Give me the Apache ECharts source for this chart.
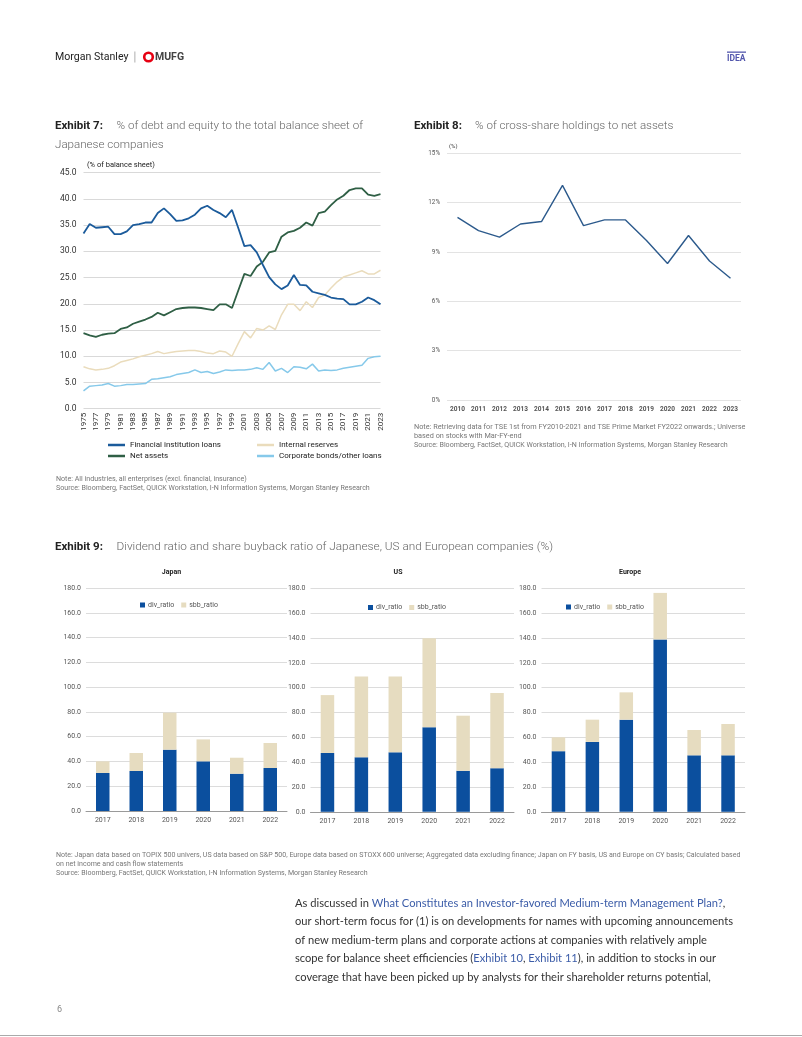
<!DOCTYPE html>
<html><head><meta charset="utf-8">
<script src="https://cdn.jsdelivr.net/npm/echarts@6/dist/echarts.min.js"></script>
<style>html,body{margin:0;padding:0;background:#fff}#c{width:802px;height:1037px}</style>
</head><body><div id="c"></div>
<script>
// ---------- Exhibit 7 data ----------
const years7 = ['1975','1976','1977','1978','1979','1980','1981','1982','1983','1984','1985','1986','1987','1988','1989','1990','1991','1992','1993','1994','1995','1996','1997','1998','1999','2000','2001','2002','2003','2004','2005','2006','2007','2008','2009','2010','2011','2012','2013','2014','2015','2016','2017','2018','2019','2020','2021','2022','2023'];
const finLoans = [33.4,35.2,34.5,34.6,34.7,33.3,33.3,33.8,35.0,35.2,35.5,35.5,37.3,38.2,37.1,35.8,35.9,36.3,37.0,38.2,38.7,37.9,37.3,36.5,37.9,34.5,31.0,31.2,29.8,27.4,25.1,23.7,22.8,23.5,25.5,23.6,23.5,22.3,22.0,21.7,21.2,21.0,20.9,19.9,19.9,20.4,21.2,20.7,19.9];
const netAssets = [14.4,14.0,13.7,14.1,14.3,14.4,15.2,15.5,16.2,16.6,17.0,17.5,18.3,17.8,18.4,19.0,19.2,19.3,19.3,19.2,19.0,18.8,19.9,19.9,19.2,22.5,25.7,25.3,27.1,28.0,29.8,30.1,32.8,33.6,33.9,34.5,35.5,34.9,37.3,37.6,38.8,39.9,40.6,41.7,42.0,42.0,40.8,40.6,40.9];
const internalReserves = [8.0,7.6,7.4,7.5,7.7,8.2,8.9,9.2,9.5,9.9,10.2,10.5,10.9,10.5,10.7,10.9,11.0,11.1,11.1,10.9,10.6,10.5,11.0,10.8,10.0,12.4,14.7,13.5,15.3,15.0,15.8,15.1,17.9,19.9,19.9,18.7,20.4,19.3,21.2,21.7,23.0,24.2,25.1,25.5,25.9,26.3,25.7,25.7,26.4];
const corpBonds = [3.4,4.3,4.4,4.5,4.8,4.3,4.4,4.6,4.6,4.7,4.8,5.6,5.7,5.9,6.1,6.5,6.7,6.9,7.4,6.9,7.1,6.7,7.0,7.4,7.3,7.4,7.4,7.5,7.8,7.5,8.8,7.2,7.7,6.9,8.0,7.9,7.6,8.5,7.2,7.4,7.3,7.4,7.7,7.9,8.1,8.3,9.6,9.9,10.0];
// ---------- Exhibit 8 data ----------
const years8 = ['2010','2011','2012','2013','2014','2015','2016','2017','2018','2019','2020','2021','2022','2023'];
const crossShare = [11.1,10.3,9.9,10.7,10.85,13.05,10.6,10.95,10.95,9.7,8.3,10.0,8.45,7.4];
// ---------- Exhibit 9 data ----------
const years9 = ['2017','2018','2019','2020','2021','2022'];
const japanDiv = [30.7,32.3,49.5,40.1,30.1,34.7];
const japanSbb = [9.4,14.5,29.9,17.7,12.9,20.2];
const usDiv = [47.4,43.9,47.9,68.0,33.0,35.1];
const usSbb = [46.6,65.1,61.1,71.8,44.4,60.5];
const euDiv = [48.8,56.3,74.2,138.8,45.5,45.5];
const euSbb = [11.2,17.9,22.0,37.5,20.4,25.2];

const FF = 'Roboto, "Noto Sans", sans-serif';
const PF = 'Lato, "Open Sans", sans-serif';

// pick a condensed face when one is installed, and size it to the reference width
const mctx = document.createElement('canvas').getContext('2d');
function hasFont(name) {
  const s = 'abcdefghijklmnopqrstuvwxyz0123456789';
  mctx.font = '20px monospace'; const a = mctx.measureText(s).width;
  mctx.font = '20px "' + name + '", monospace'; const b = mctx.measureText(s).width;
  return a !== b;
}
const HAS_NARROW = hasFont('Liberation Sans Narrow');
const NARROW = HAS_NARROW ? '"Liberation Sans Narrow", ' + FF : FF;
function fitSize(text, family, weight, target) {
  mctx.font = (weight || 'normal') + ' 20px ' + family;
  return 20 * target / mctx.measureText(text).width;
}
const legSize = HAS_NARROW ? Math.min(9.5, fitSize('Financial institution loans', NARROW, 'normal', 82)) : 8;

function T(x, y, text, size, color, weight, family, extra) {
  return {type:'text', x:x, y:y, silent:true, z:10,
    style:Object.assign({text:text, fill:color||'#333',
      font:(weight||'normal')+' '+size+'px '+(family||FF), align:'left', verticalAlign:'middle'}, extra||{})};
}
const linkC = '#3b5ca8';
function P(y, text) {
  const f = '11.15px ' + PF;
  return {type:'text', x:295, y:y, silent:true,
    style:{text:text, fill:'#333', font:f, align:'left', verticalAlign:'middle',
      rich:{l:{fill:linkC, color:linkC, font:f}, n:{fill:'#333', color:'#333', font:f}}}};
}

const graphic = [
  T(55,57,'Morgan Stanley',10.6,'#222','normal'),
  {type:'rect', shape:{x:134.5,y:51.5,width:0.8,height:11}, style:{fill:'#999'}, silent:true},
  {type:'circle', shape:{cx:148.5,cy:57,r:4.3}, style:{fill:'none', stroke:'#e60012', lineWidth:2.6}, silent:true},
  T(155,57,'MUFG',10.5,'#444','bold'),
  {type:'rect', shape:{x:727,y:51.5,width:19,height:1.3}, style:{fill:'#5458ad'}, silent:true},
  T(727,58.5,'IDEA',8.5,'#5458ad','bold'),
  // Exhibit 7 titles
  T(55,126,'Exhibit 7:',11.5,'#222','bold'),
  T(116.5,126,'% of debt and equity to the total balance sheet of',11.6,'#666','300'),
  T(55,145,'Japanese companies',11.6,'#666','300'),
  T(87,165,'(% of balance sheet)',7.5,'#222','normal'),
  T(56,479,'Note: All industries, all enterprises (excl. financial, insurance)',7.1,'#777'),
  T(56,488.3,'Source: Bloomberg, FactSet, QUICK Workstation, I-N Information Systems, Morgan Stanley Research',7.1,'#777'),
  // Exhibit 8 titles
  T(414,126,'Exhibit 8:',11.5,'#222','bold'),
  T(475,126,'% of cross-share holdings to net assets',11.6,'#666','300'),
  T(449,146,'(%)',6,'#444'),
  T(414,427,'Note: Retrieving data for TSE 1st from FY2010-2021 and TSE Prime Market FY2022 onwards.; Universe',7.3,'#777'),
  T(414,436,'based on stocks with Mar-FY-end',7.3,'#777'),
  T(414,445,'Source: Bloomberg, FactSet, QUICK Workstation, I-N Information Systems, Morgan Stanley Research',7.1,'#777'),
  // Exhibit 9
  T(55,547,'Exhibit 9:',11.5,'#222','bold'),
  T(116.5,547,'Dividend ratio and share buyback ratio of Japanese, US and European companies (%)',11.8,'#666','300'),
  T(171.5,572,'Japan',7,'#222','bold',FF,{align:'center'}),
  T(398,572.5,'US',7,'#222','bold',FF,{align:'center'}),
  T(630,572.5,'Europe',7,'#222','bold',FF,{align:'center'}),
  T(56,855.5,'Note: Japan data based on TOPIX 500 univers, US data based on S&P 500, Europe data based on STOXX 600 universe; Aggregated data excluding finance; Japan on FY basis, US and Europe on CY basis; Calculated based',7.05,'#777'),
  T(56,864.5,'on net income and cash flow statements',7.05,'#777'),
  T(56,873.5,'Source: Bloomberg, FactSet, QUICK Workstation, I-N Information Systems, Morgan Stanley Research',7.05,'#777'),
  // paragraph
  P(903,'As discussed in {l|What Constitutes an Investor-favored Medium-term Management Plan?}{n|,}'),
  P(921.5,'our short-term focus for (1) is on developments for names with upcoming announcements'),
  P(940,'of new medium-term plans and corporate actions at companies with relatively ample'),
  P(958.5,'scope for balance sheet efficiencies ({l|Exhibit 10}{n|, }{l|Exhibit 11}{n|), in addition to stocks in our}'),
  P(977,'coverage that have been picked up by analysts for their shareholder returns potential,'),
  T(57,1010,'6',9,'#888'),
  {type:'rect', shape:{x:0,y:1035,width:802,height:1}, style:{fill:'#aaa'}, silent:true}
];

const f1 = v => v.toFixed(1);

function barAxisX(gi) {
  return {type:'category', gridIndex:gi, data:years9, axisTick:{show:false},
    axisLine:{show:true, lineStyle:{color:'#9a9a9a', width:1}},
    axisLabel:{fontSize:7, color:'#555', margin:6, fontFamily:FF}};
}
function barAxisY(gi) {
  return {type:'value', gridIndex:gi, min:0, max:180, interval:20,
    splitLine:{show:true, lineStyle:{color:'#dcdcdc'}}, axisLine:{show:false}, axisTick:{show:false},
    axisLabel:{fontSize:7, color:'#555', margin:5, formatter:f1, fontFamily:FF}};
}
const DIV_C = '#0b4f9e', SBB_C = '#e6dcc0';
function barSeries(gi, div, sbb) {
  return [
    {name:'div_ratio', type:'bar', xAxisIndex:gi, yAxisIndex:gi, stack:'s'+gi, data:div, barWidth:13.5, itemStyle:{color:DIV_C}},
    {name:'sbb_ratio', type:'bar', xAxisIndex:gi, yAxisIndex:gi, stack:'s'+gi, data:sbb, barWidth:13.5, itemStyle:{color:SBB_C}}
  ];
}
function barLegend(left, top) {
  return {left:left, top:top, itemWidth:5, itemHeight:5, itemGap:7, icon:'rect',
    data:['div_ratio','sbb_ratio'], textStyle:{fontSize:7, color:'#555', fontFamily:FF, padding:[0,0,0,-2]}, selectedMode:false};
}
function lineLegend(left, names) {
  return {left:left, top:436, orient:'vertical', itemGap:Math.max(1, 13 - Math.round(legSize * 1.2)), itemWidth:17, itemHeight:2.5, icon:'rect',
    data:names, textStyle:{fontSize:legSize, color:'#222', fontFamily:NARROW}, selectedMode:false};
}

const option = {
  animation:false,
  backgroundColor:'#fff',
  textStyle:{fontFamily:FF},
  graphic:graphic,
  legend:[
    lineLegend(103, ['Financial institution loans','Net assets']),
    lineLegend(252, ['Internal reserves','Corporate bonds/other loans']),
    barLegend(135, 596.5),
    barLegend(363, 599),
    barLegend(561, 598.5)
  ],
  grid:[
    {left:83.5, top:172.7, width:297, height:236},
    {left:447, top:153.3, width:294, height:246.7},
    {left:86, top:588, width:201, height:223},
    {left:310.5, top:588.3, width:203.5, height:223.5},
    {left:541.5, top:588.3, width:203.5, height:223.5}
  ],
  xAxis:[
    {type:'category', gridIndex:0, data:years7, boundaryGap:false, axisLine:{show:false}, axisTick:{show:false},
      axisLabel:{rotate:90, interval:1, fontSize:8, color:'#333', margin:4}},
    {type:'category', gridIndex:1, data:years8, boundaryGap:true, axisLine:{show:false}, axisTick:{show:false},
      axisLabel:{fontSize:6.5, color:'#555', margin:6, fontWeight:'bold'}},
    barAxisX(2), barAxisX(3), barAxisX(4)
  ],
  yAxis:[
    {type:'value', gridIndex:0, min:0, max:45, interval:5, splitLine:{show:true, lineStyle:{color:'#d9d9d9'}},
      axisLine:{show:false}, axisTick:{show:false}, axisLabel:{fontSize:8.5, color:'#333', margin:7, formatter:f1}},
    {type:'value', gridIndex:1, min:0, max:15, interval:3, splitLine:{show:true, lineStyle:{color:'#e3e3e3'}},
      axisLine:{show:false}, axisTick:{show:false}, axisLabel:{fontSize:6.3, color:'#555', margin:7, formatter:v=>v+'%'}},
    barAxisY(2), barAxisY(3), barAxisY(4)
  ],
  series:[
    {name:'Internal reserves', type:'line', xAxisIndex:0, yAxisIndex:0, data:internalReserves, symbol:'none',
      lineStyle:{color:'#eadcbc', width:1.5}, itemStyle:{color:'#eadcbc'}},
    {name:'Corporate bonds/other loans', type:'line', xAxisIndex:0, yAxisIndex:0, data:corpBonds, symbol:'none',
      lineStyle:{color:'#86c9ea', width:1.5}, itemStyle:{color:'#86c9ea'}},
    {name:'Net assets', type:'line', xAxisIndex:0, yAxisIndex:0, data:netAssets, symbol:'none',
      lineStyle:{color:'#2f5f45', width:1.8}, itemStyle:{color:'#2f5f45'}},
    {name:'Financial institution loans', type:'line', xAxisIndex:0, yAxisIndex:0, data:finLoans, symbol:'none',
      lineStyle:{color:'#1b5b9b', width:1.8}, itemStyle:{color:'#1b5b9b'}},
    {name:'Cross-share holdings', type:'line', xAxisIndex:1, yAxisIndex:1, data:crossShare, symbol:'none',
      lineStyle:{color:'#2c5a8c', width:1.4}, itemStyle:{color:'#2c5a8c'}},
    ...barSeries(2, japanDiv, japanSbb),
    ...barSeries(3, usDiv, usSbb),
    ...barSeries(4, euDiv, euSbb)
  ]
};
const chart = echarts.init(document.getElementById('c'), null, {renderer:'canvas'});
chart.setOption(option);
</script>
</body></html>
